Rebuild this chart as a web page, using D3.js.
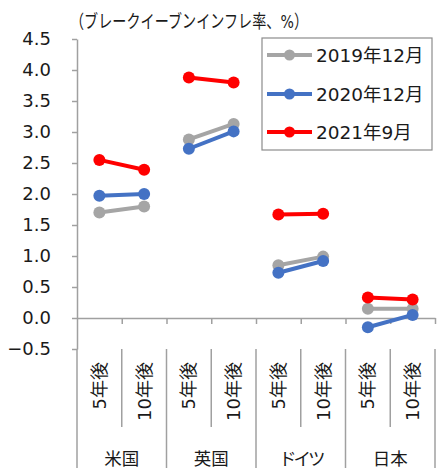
<!DOCTYPE html>
<html>
<head>
<meta charset="utf-8">
<script src="https://cdn.jsdelivr.net/npm/d3@7"></script>
<style>
  html, body { margin: 0; padding: 0; background: #fff; }
  svg { display: block; }
  text { font-family: "DejaVu Sans", "Noto Sans CJK JP", sans-serif; fill: #1a1a1a; }
</style>
</head>
<body>
<svg id="chart" width="443" height="468"></svg>
<script>
// Break-even inflation rates (%), 5-year and 10-year, by country and date
const countries = ["米国", "英国", "ドイツ", "日本"];
const horizons = ["5年後", "10年後"];
const seriesNames = ["2019年12月", "2020年12月", "2021年9月"];
const seriesColors = ["#a5a5a5", "#4472c4", "#ff0000"];

// values per country: [5年後, 10年後]
const values2019Dec = [[1.70, 1.80], [2.88, 3.13], [0.85, 0.99], [0.15, 0.15]];
const values2020Dec = [[1.97, 2.00], [2.73, 3.01], [0.73, 0.92], [-0.15, 0.05]];
const values2021Sep = [[2.55, 2.39], [3.88, 3.80], [1.67, 1.68], [0.33, 0.30]];
const seriesValues = [values2019Dec, values2020Dec, values2021Sep];

const yTicks = [-0.5, 0, 0.5, 1, 1.5, 2, 2.5, 3, 3.5, 4, 4.5];
const yTitle = "（ブレークイーブンインフレ率、%）";

const svg = d3.select("#chart");
const W = 443, H = 468;
const plotLeft = 77, plotRight = 435, plotTop = 39, plotBottom = 349;

// one slot per country/horizon pair
const slots = [];
countries.forEach((c, ci) => horizons.forEach((h, hi) => slots.push({ c, ci, h, hi, key: c + "|" + h })));

const x = d3.scaleBand().domain(slots.map(s => s.key)).range([plotLeft, plotRight]).padding(0);
const xEdge = d3.scaleLinear().domain([0, slots.length]).range([plotLeft, plotRight]);
const y = d3.scaleLinear().domain([-0.5, 4.5]).range([plotBottom, plotTop]);

const axisColor = "#a0a0a0";

// y axis
const yAxis = svg.append("g")
  .attr("transform", `translate(${plotLeft},0)`)
  .call(d3.axisLeft(y).tickValues(yTicks).tickFormat(d3.format(".1f")).tickSize(5).tickSizeOuter(0).tickPadding(21));
yAxis.select(".domain").attr("stroke", axisColor).attr("stroke-width", 1.5);
yAxis.selectAll(".tick line").attr("stroke", axisColor).attr("stroke-width", 1.5);
yAxis.selectAll(".tick text").attr("font-size", 18).attr("fill", "#1a1a1a")
  .style("font-family", "'DejaVu Sans', sans-serif");

// y axis line continues through the category label area
svg.append("line")
  .attr("x1", plotLeft).attr("x2", plotLeft)
  .attr("y1", y(-0.5)).attr("y2", H)
  .attr("stroke", axisColor).attr("stroke-width", 1.5);

// zero line with slot ticks
const xAxis = svg.append("g")
  .attr("transform", `translate(0,${y(0)})`)
  .call(d3.axisBottom(xEdge).tickValues(d3.range(1, slots.length + 1)).tickFormat("").tickSize(6).tickSizeOuter(0));
xAxis.select(".domain").attr("stroke", axisColor).attr("stroke-width", 1.5);
xAxis.selectAll(".tick line").attr("stroke", axisColor).attr("stroke-width", 1.5);

// separators in the category label area
const sepY2Inner = 427;
svg.append("g").selectAll("line")
  .data(d3.range(1, slots.length + 1))
  .join("line")
  .attr("x1", d => xEdge(d)).attr("x2", d => xEdge(d))
  .attr("y1", y(-0.5))
  .attr("y2", d => d % 2 === 0 ? H : sepY2Inner)
  .attr("stroke", axisColor).attr("stroke-width", 1.5);

// horizon labels (rotated)
svg.append("g").selectAll("text")
  .data(slots)
  .join("text")
  .attr("transform", d => `translate(${x(d.key) + x.bandwidth() / 2},${y(-0.5) + 13}) rotate(-90)`)
  .attr("text-anchor", "end")
  .attr("dy", "0.36em")
  .attr("font-size", 18)
  .text(d => d.h);

// country labels; katakana set a little tighter
svg.append("g").selectAll("text")
  .data(countries)
  .join("text")
  .attr("x", (d, i) => (xEdge(i * 2) + xEdge(i * 2 + 2)) / 2)
  .attr("y", 465)
  .attr("text-anchor", "middle")
  .attr("font-size", 17.5)
  .attr("letter-spacing", d => /[\u30a0-\u30ff]/.test(d) ? "-3px" : null)
  .text(d => d);

// title
svg.append("text")
  .attr("x", 70).attr("y", 28)
  .attr("font-size", 18.5)
  .attr("textLength", 238)
  .attr("lengthAdjust", "spacingAndGlyphs")
  .text(yTitle);

// series: a segment per country joining 5年後 and 10年後
const line = d3.line().x(d => d[0]).y(d => d[1]);
seriesValues.forEach((vals, si) => {
  const g = svg.append("g");
  vals.forEach((pair, ci) => {
    const pts = pair.map((v, hi) => [x(countries[ci] + "|" + horizons[hi]) + x.bandwidth() / 2, y(v)]);
    g.append("path").attr("d", line(pts))
      .attr("fill", "none").attr("stroke", seriesColors[si]).attr("stroke-width", 4);
    g.selectAll(null).data(pts).join("circle")
      .attr("cx", d => d[0]).attr("cy", d => d[1]).attr("r", 6)
      .attr("fill", seriesColors[si]);
  });
});

// legend
const lg = svg.append("g");
lg.append("rect")
  .attr("x", 262).attr("y", 38).attr("width", 170).attr("height", 112)
  .attr("fill", "#fff").attr("stroke", "#8c8c8c").attr("stroke-width", 1.2);
const legendRows = [55, 94, 132];
seriesNames.forEach((name, i) => {
  const ly = legendRows[i];
  lg.append("line").attr("x1", 267).attr("x2", 312).attr("y1", ly).attr("y2", ly)
    .attr("stroke", seriesColors[i]).attr("stroke-width", 4);
  lg.append("circle").attr("cx", 289.5).attr("cy", ly).attr("r", 5.5).attr("fill", seriesColors[i]);
  lg.append("text").attr("x", 316).attr("y", ly).attr("dy", "0.36em")
    .attr("font-size", 18.5).text(name);
});
</script>
</body>
</html>
